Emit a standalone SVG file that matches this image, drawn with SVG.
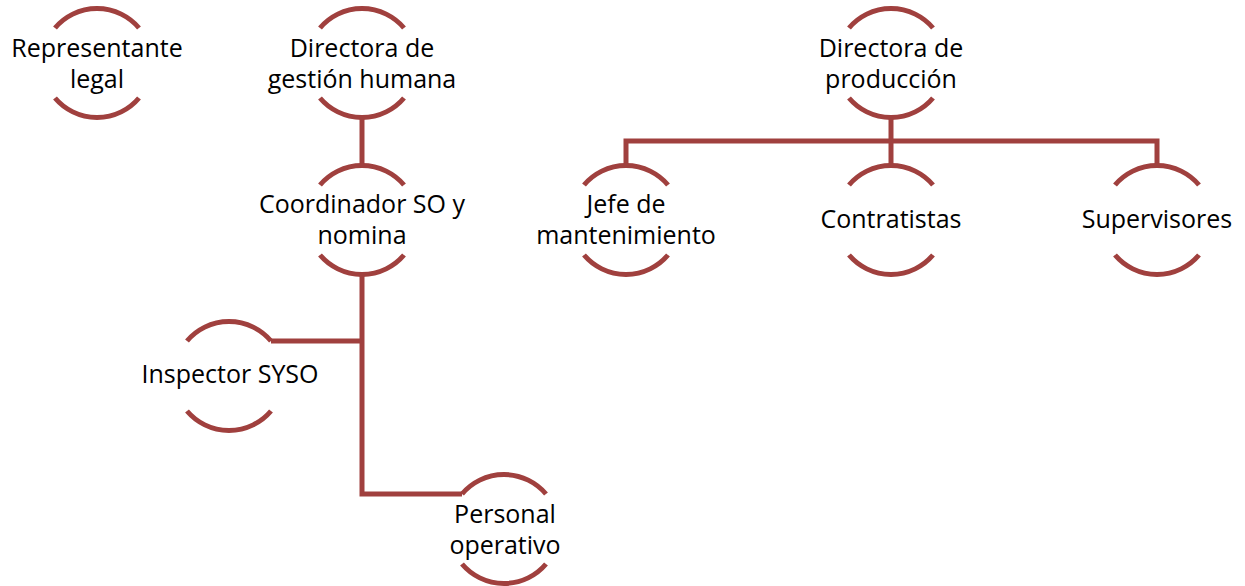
<svg xmlns="http://www.w3.org/2000/svg" width="1245" height="586" viewBox="0 0 1245 586">
<style>
.arc{fill:none;stroke:#A0403E;stroke-width:5}
.con{fill:none;stroke:#A0403E;stroke-width:5;stroke-linejoin:miter}
text{font-family:"Open Sans","Liberation Sans",sans-serif;font-size:25px;fill:#000;text-anchor:middle}
</style>
<rect width="1245" height="586" fill="#fff"/>
<g id="connectors">
<path class="con" d="M362 118 V165"/>
<path class="con" d="M362 275 V494 H462"/>
<path class="con" d="M362 341 H271"/>
<path class="con" d="M891 118 V141"/>
<path class="con" d="M626 165 V141 H1157 V165"/>
<path class="con" d="M891 141 V165"/>
</g>
<g id="n-representante">
<path class="arc" d="M55 28 A55 55 0 0 1 139 28"/>
<path class="arc" d="M55 98 A55 55 0 0 0 139 98"/>
<text x="97" y="57">Representante</text>
<text x="97" y="88">legal</text>
</g>
<g id="n-dir-gestion">
<path class="arc" d="M320 28 A55 55 0 0 1 404 28"/>
<path class="arc" d="M320 98 A55 55 0 0 0 404 98"/>
<text x="362" y="57">Directora de</text>
<text x="362" y="88">gestión humana</text>
</g>
<g id="n-coordinador">
<path class="arc" d="M320 185 A55 55 0 0 1 404 185"/>
<path class="arc" d="M320 255 A55 55 0 0 0 404 255"/>
<text x="362" y="213">Coordinador SO y</text>
<text x="362" y="244">nomina</text>
</g>
<g id="n-inspector">
<path class="arc" d="M187 341 A55 55 0 0 1 271 341"/>
<path class="arc" d="M187 411 A55 55 0 0 0 271 411"/>
<text x="230" y="383">Inspector SYSO</text>
</g>
<g id="n-personal">
<path class="arc" d="M462 494 A55 55 0 0 1 546 494"/>
<path class="arc" d="M462 564 A55 55 0 0 0 546 564"/>
<text x="505" y="523">Personal</text>
<text x="505" y="554">operativo</text>
</g>
<g id="n-dir-produccion">
<path class="arc" d="M849 28 A55 55 0 0 1 933 28"/>
<path class="arc" d="M849 98 A55 55 0 0 0 933 98"/>
<text x="891" y="57">Directora de</text>
<text x="891" y="88">producción</text>
</g>
<g id="n-jefe">
<path class="arc" d="M584 185 A55 55 0 0 1 668 185"/>
<path class="arc" d="M584 255 A55 55 0 0 0 668 255"/>
<text x="626" y="213">Jefe de</text>
<text x="626" y="244">mantenimiento</text>
</g>
<g id="n-contratistas">
<path class="arc" d="M849 185 A55 55 0 0 1 933 185"/>
<path class="arc" d="M849 255 A55 55 0 0 0 933 255"/>
<text x="891" y="228">Contratistas</text>
</g>
<g id="n-supervisores">
<path class="arc" d="M1115 185 A55 55 0 0 1 1199 185"/>
<path class="arc" d="M1115 255 A55 55 0 0 0 1199 255"/>
<text x="1157" y="228">Supervisores</text>
</g>
</svg>
